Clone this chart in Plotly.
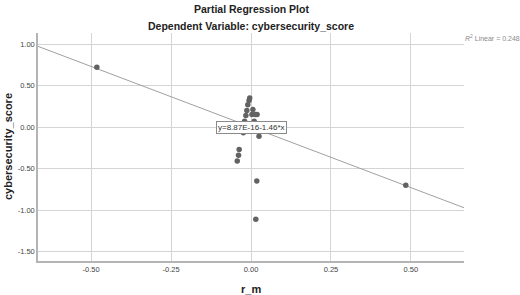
import plotly.graph_objects as go

# Data
r_m = [-0.482, 0.484, -0.004, -0.006, -0.010, -0.013, 0.006, -0.016, 0.003, 0.013,
       0.019, -0.020, 0.010, -0.024, 0.025, -0.037, -0.039, -0.043, 0.018, 0.015, 0.000]
cyber_score = [0.72, -0.70, 0.35, 0.32, 0.27, 0.20, 0.21, 0.14, 0.15, 0.15,
               0.15, 0.07, 0.07, -0.07, -0.11, -0.27, -0.34, -0.41, -0.65, -1.11, 0.02]
intercept = 8.87e-16
slope = -1.46
r2 = 0.248
x_ticks = [-0.50, -0.25, 0.00, 0.25, 0.50]
y_ticks = [1.00, 0.50, 0.00, -0.50, -1.00, -1.50]
x_range = [-0.666, 0.666]
y_range = [-1.614, 1.133]

line_x = list(x_range)
line_y = [intercept + slope * v for v in line_x]

FONT = "Liberation Sans, Arial, sans-serif"

fig = go.Figure()
fig.add_trace(go.Scatter(x=line_x, y=line_y, mode="lines",
                         line=dict(color="#a0a0a0", width=1), hoverinfo="skip",
                         showlegend=False))
fig.add_trace(go.Scatter(x=r_m, y=cyber_score, mode="markers",
                         marker=dict(color="#626262", size=5.5), showlegend=False))

fig.update_layout(
    width=520, height=295,
    margin=dict(l=38, r=56, t=33, b=34),
    paper_bgcolor="white", plot_bgcolor="white",
    font=dict(family=FONT, color="#222"),
    xaxis=dict(range=x_range, tickvals=x_ticks, ticktext=[f"{v:.2f}" for v in x_ticks],
               showgrid=True, gridcolor="#d4d4d4", gridwidth=1, zeroline=False,
               showline=True, linecolor="#b4b4b4", linewidth=1.5,
               ticks="", tickfont=dict(size=7.5, color="#444")),
    yaxis=dict(range=y_range, tickvals=y_ticks, ticktext=[f"{v:.2f}" for v in y_ticks],
               showgrid=True, gridcolor="#d4d4d4", gridwidth=1, zeroline=False,
               showline=True, linecolor="#b4b4b4", linewidth=1.5,
               ticks="", tickfont=dict(size=7.5, color="#444")),
    annotations=[
        dict(text="<b>Partial Regression Plot</b>", xref="paper", yref="paper",
             x=0.5, y=1, yshift=24, xanchor="center", yanchor="middle",
             showarrow=False, font=dict(size=10.5, color="#222")),
        dict(text="<b>Dependent Variable: cybersecurity_score</b>", xref="paper", yref="paper",
             x=0.5, y=1, yshift=7, xanchor="center", yanchor="middle",
             showarrow=False, font=dict(size=10.5, color="#222")),
        dict(text="<b>cybersecurity_score</b>", xref="paper", yref="paper",
             x=0, xshift=-30, y=0.5, textangle=-90, xanchor="center", yanchor="middle",
             showarrow=False, font=dict(size=11, color="#222")),
        dict(text="<b>r_m</b>", xref="paper", yref="paper",
             x=0.5, y=0, yshift=-28, xanchor="center", yanchor="middle",
             showarrow=False, font=dict(size=11, color="#222")),
        dict(text=f"<i>R</i><sup>2</sup> Linear = {r2}", xref="paper", yref="paper",
             x=1, xshift=-1, y=1, yshift=-5, xanchor="left", yanchor="middle",
             showarrow=False, font=dict(size=7, color="#8a8a8a")),
        dict(text=f"y={intercept:.2E}{slope:+.2f}*x", x=0, y=0.0,
             xref="x", yref="y", xanchor="center", yanchor="middle",
             showarrow=False, bgcolor="white", bordercolor="#8a8a8a", borderwidth=1,
             borderpad=1, font=dict(size=8, color="#333")),
    ],
)

fig.write_html("out.html")
